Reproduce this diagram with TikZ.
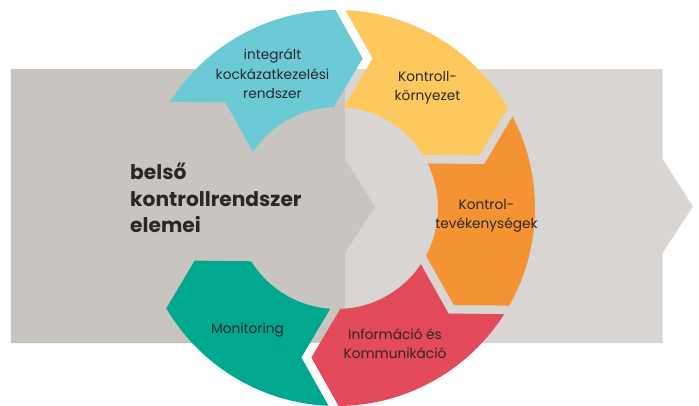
\documentclass[tikz,border=0pt]{standalone}
\usepackage{fontspec}
\setmainfont{Poppins}
\definecolor{bgdark}{HTML}{C8C4C0}
\definecolor{bglight}{HTML}{D9D5D2}
\definecolor{cteal}{HTML}{6CCAD6}
\definecolor{cyellow}{HTML}{FDC95F}
\definecolor{corange}{HTML}{F39333}
\definecolor{cred}{HTML}{E34A5A}
\definecolor{cgreen}{HTML}{00A88F}
\definecolor{txt}{HTML}{2B2728}
\newcommand\ringseg[2]{%
  \pgfmathsetmacro\segA{#1}%
  \pgfmathsetmacro\segB{#1-60}%
  \fill[#2] (\segA+88.55:198pt) arc[start angle=\segA+88.55, end angle=\segB+91.45, radius=198pt]
    -- (\segB+81.28:151.75pt) -- (\segB+92.84:101pt)
    arc[start angle=\segB+92.84, end angle=\segA+87.16, radius=101pt]
    -- (\segA+77.59:153.6pt) -- cycle;}
\tikzset{
  lbl/.style={font=\fontsize{13.7}{19.5}\selectfont, text=txt, align=center, inner sep=0pt},
  mainlbl/.style={font=\bfseries\fontsize{20.2}{26.7}\selectfont, text=txt, align=left, inner sep=0pt, anchor=west}
}
\begin{document}
\begin{tikzpicture}[x=1pt,y=1pt]
\useasboundingbox (-337,-197) rectangle (362,208);
% background arrows
\fill[bglight] (8,139) -- (325.5,139) -- (325.5,49) -- (356,1.5) -- (325.5,-45) -- (325.5,-135) -- (8,-135) -- cycle;
\fill[bgdark] (-326,139) -- (8,139) -- (8,49) -- (38,1.5) -- (8,-45) -- (8,-135) -- (-326,-135) -- cycle;
% ring segments
\ringseg{59}{cteal}
\ringseg{-1}{cyellow}
\ringseg{-61}{corange}
\ringseg{-121}{cred}
\ringseg{-181}{cgreen}
% labels
\node[lbl] (risk) at (-64.5,134) {integrált\\kockázatkezelési\\rendszer};
\node[lbl] (env) at (90.5,120.5) {Kontroll-\\környezet};
\node[lbl] (act) at (149.5,-8) {Kontrol-\\tevékenységek};
\node[lbl] (info) at (58,-135.5) {Információ és\\Kommunikáció};
\node[lbl] (mon) at (-89.5,-122) {Monitoring};
\node[mainlbl] (title) at (-207,10) {belső\\kontrollrendszer\\elemei};
\end{tikzpicture}
\end{document}
